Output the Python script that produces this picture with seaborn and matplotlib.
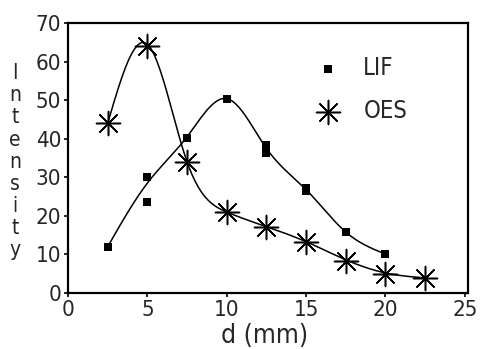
import numpy as np
import matplotlib
matplotlib.use("Agg")
import matplotlib.pyplot as plt
import pandas as pd
import seaborn as sns

# punkty pomiarowe
lif_d = [2.5, 5, 5, 7.5, 10, 12.5, 12.5, 15, 15, 17.5, 20]
lif_i = [12, 30, 23.5, 40.3, 50.4, 38.3, 36.3, 27.2, 26.5, 15.7, 10.1]
oes_d = [2.5, 5, 7.5, 10, 12.5, 15, 17.5, 20, 22.5]
oes_i = [44, 64, 34, 21, 17.2, 13.3, 8.4, 5, 3.9]

# wezly krzywych (linia prowadzona recznie przez punkty)
lif_curve_d = [2.5, 5, 7.5, 10, 12.5, 15, 17.5, 20]
lif_curve_i = [12, 28.5, 40.5, 50.4, 37.5, 26.8, 15.8, 10.1]
oes_curve_d = [2.5, 5, 7.5, 10, 12.5, 15, 17.5, 20, 22.5]
oes_curve_i = [44, 64.5, 34, 21, 17.2, 13.3, 8.6, 5.2, 3.9]


def spline(xk, yk, n=200):
    # naturalny splajn kubiczny
    xk = np.asarray(xk, float)
    yk = np.asarray(yk, float)
    m = len(xk)
    h = np.diff(xk)
    A = np.zeros((m, m))
    b = np.zeros(m)
    A[0, 0] = A[-1, -1] = 1
    for i in range(1, m - 1):
        A[i, i - 1] = h[i - 1]
        A[i, i] = 2 * (h[i - 1] + h[i])
        A[i, i + 1] = h[i]
        b[i] = 6 * ((yk[i + 1] - yk[i]) / h[i] - (yk[i] - yk[i - 1]) / h[i - 1])
    M = np.linalg.solve(A, b)
    xs = np.linspace(xk[0], xk[-1], n)
    idx = np.clip(np.searchsorted(xk, xs) - 1, 0, m - 2)
    x0, x1 = xk[idx], xk[idx + 1]
    hh = x1 - x0
    t0, t1 = x1 - xs, xs - x0
    ys = (M[idx] * t0**3 + M[idx + 1] * t1**3) / (6 * hh) \
        + (yk[idx] / hh - M[idx] * hh / 6) * t0 \
        + (yk[idx + 1] / hh - M[idx + 1] * hh / 6) * t1
    return xs, ys


sns.set_style("ticks")
plt.rcParams['font.family'] = ['DejaVu Sans']
plt.rcParams['font.stretch'] = 'condensed'

fig = plt.figure(figsize=(4.8, 3.49), dpi=100)
ax = fig.add_axes([0.1417, 0.1605, 0.8333, 0.7735])

xs, ys = spline(lif_curve_d, lif_curve_i)
sns.lineplot(x=xs, y=ys, ax=ax, color="black", lw=1.1, sort=False)
xs, ys = spline(oes_curve_d, oes_curve_i)
sns.lineplot(x=xs, y=ys, ax=ax, color="black", lw=1.1, sort=False)

sns.scatterplot(x=lif_d, y=lif_i, ax=ax, marker="s", s=30, color="black",
                edgecolor="black", linewidth=0, label="LIF", zorder=3)
sns.scatterplot(x=oes_d, y=oes_i, ax=ax, marker=(8, 2, 0), s=300,
                color="black", linewidth=1.1, label="OES", zorder=3)

ax.set_xlim(0, 25.2)
ax.set_ylim(0, 70)
ax.set_xticks([0, 5, 10, 15, 20, 25])
ax.set_yticks([0, 10, 20, 30, 40, 50, 60, 70])
ax.tick_params(labelsize=16, length=3, width=1.2, color="black", pad=2)
for s in ax.spines.values():
    s.set_visible(True)
    s.set_linewidth(1.6)
    s.set_color("black")

ax.legend(loc="upper left", bbox_to_anchor=(0.5375, 0.955), frameon=False,
          fontsize=17, handletextpad=0.5, labelspacing=0.8, markerscale=1.0)

# os y: litery ustawione pionowo jedna pod druga
label = "Intensity"
ys_lab = np.linspace(0.79, 0.284, len(label))
for ch, yy in zip(label, ys_lab):
    fig.text(0.031, yy, ch, fontsize=15, ha="center", va="center")
fig.text(0.552, 0.036, "d (mm)", fontsize=19, ha="center", va="center")

fig.savefig("out.png", dpi=100)
